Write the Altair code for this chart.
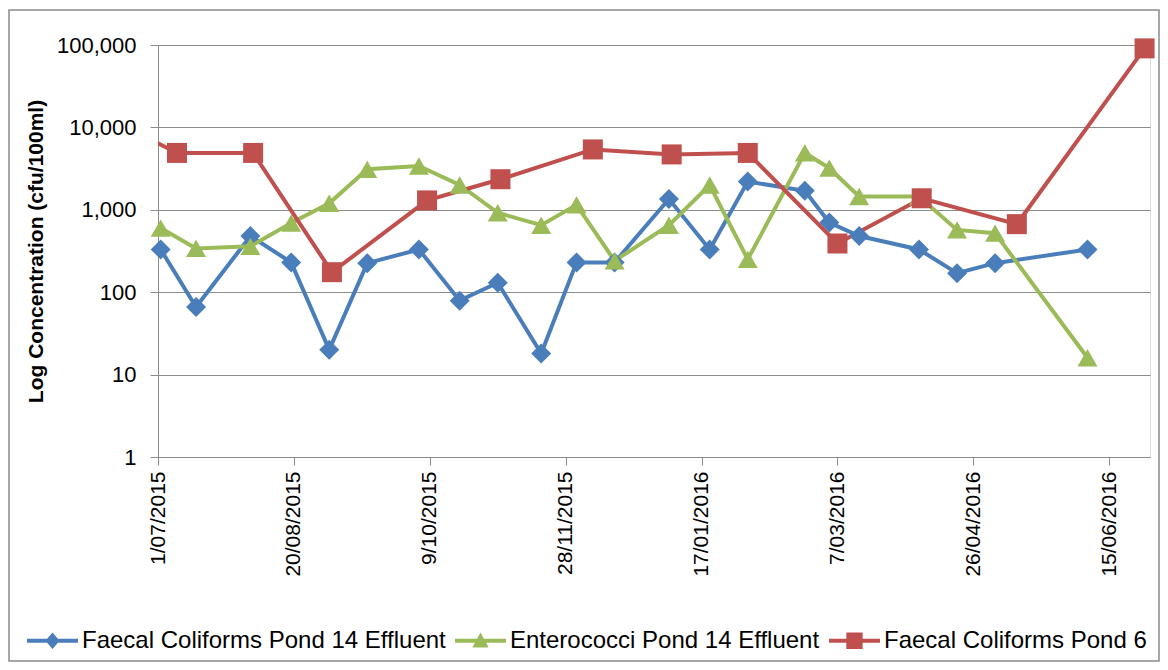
import altair as alt
import pandas as pd

series_names = [
    "Faecal Coliforms Pond 14 Effluent",
    "Enterococci Pond 14 Effluent",
    "Faecal Coliforms Pond 6",
]
series_colors = ["#4A7EBB", "#9BBB59", "#C0504D"]

pond14_dates = [
    "2015-07-02", "2015-07-15", "2015-08-04", "2015-08-19", "2015-09-02",
    "2015-09-16", "2015-10-05", "2015-10-20", "2015-11-03", "2015-11-19",
    "2015-12-02", "2015-12-16", "2016-01-05", "2016-01-20", "2016-02-03",
    "2016-02-24", "2016-03-04", "2016-03-15", "2016-04-06", "2016-04-20",
    "2016-05-04", "2016-06-07",
]
fc14_values = [330, 66, 480, 230, 20, 225, 330, 79, 130, 18, 230, 230,
               1350, 330, 2200, 1700, 700, 480, 330, 170, 225, 330]
ent14_values = [600, 340, 360, 690, 1200, 3100, 3400, 2000, 920, 650, 1150,
                240, 650, 2000, 250, 4900, 3200, 1450, 1450, 570, 520, 16]

pond6_dates = [
    "2015-06-17", "2015-07-08", "2015-08-05", "2015-09-03", "2015-10-08",
    "2015-11-04", "2015-12-08", "2016-01-06", "2016-02-03", "2016-03-07",
    "2016-04-07", "2016-05-12", "2016-06-28",
]
fc6_values = [11000, 4900, 4900, 175, 1300, 2350, 5400, 4700, 4900, 390,
              1380, 670, 91000]

tick_dates = [(2015, 7, 1), (2015, 8, 20), (2015, 10, 9), (2015, 11, 28),
              (2016, 1, 17), (2016, 3, 7), (2016, 4, 26), (2016, 6, 15)]
y_ticks = [1, 10, 100, 1000, 10000, 100000]

rows = []
for d, v in zip(pond14_dates, fc14_values):
    rows.append({"date": d + "T00:00:00", "value": v, "series": series_names[0], "inview": d >= "2015-07-01"})
for d, v in zip(pond14_dates, ent14_values):
    rows.append({"date": d + "T00:00:00", "value": v, "series": series_names[1], "inview": d >= "2015-07-01"})
for d, v in zip(pond6_dates, fc6_values):
    rows.append({"date": d + "T00:00:00", "value": v, "series": series_names[2], "inview": d >= "2015-07-01"})
df = pd.DataFrame(rows)

FONT = "Liberation Sans"
GRID = "#8c8c8c"

x_enc = alt.X(
    "date:T",
    scale=alt.Scale(domain=[alt.DateTime(year=2015, month=7, date=1),
                            alt.DateTime(year=2016, month=6, date=30)]),
    axis=alt.Axis(
        values=[alt.DateTime(year=y, month=m, date=d) for (y, m, d) in tick_dates],
        format="%-d/%m/%Y", labelAngle=270, grid=False,
        labelFont=FONT, labelFontSize=21, labelColor="#000",
        tickSize=8, tickColor=GRID, domainColor=GRID, labelPadding=6,
        title=None,
    ),
)
y_enc = alt.Y(
    "value:Q",
    scale=alt.Scale(type="log", domain=[1, 100000], nice=False),
    axis=alt.Axis(
        values=y_ticks, format=",", grid=True, gridColor=GRID,
        domainColor=GRID, tickColor=GRID, tickSize=8,
        labelFont=FONT, labelFontSize=22, labelColor="#000", labelPadding=14,
        title="Log Concentration (cfu/100ml)", titleFont=FONT,
        titleFontSize=21, titleFontWeight="bold", titleColor="#000",
        titlePadding=10,
    ),
)

color_scale = alt.Scale(domain=series_names, range=series_colors)

base = alt.Chart(df)

lines = base.mark_line(strokeWidth=4, clip=True).encode(
    x=x_enc, y=y_enc,
    color=alt.Color("series:N", scale=color_scale, legend=None),
    order=alt.Order("date:T"),
)

points = base.transform_filter("datum.inview").mark_point(
    filled=True, opacity=1, size=400, clip=False
).encode(
    x=x_enc, y=y_enc,
    color=alt.Color("series:N", scale=color_scale, legend=None),
    shape=alt.Shape("series:N",
                    scale=alt.Scale(domain=series_names,
                                    range=["diamond", "triangle-up", "square"]),
                    legend=None),
)

legend_paths = [
    "M-1,-0.08L1,-0.08L1,0.08L-1,0.08Z M-0.28,0L0,-0.32L0.28,0L0,0.32Z",
    "M-1,-0.08L1,-0.08L1,0.08L-1,0.08Z M0,-0.32L0.32,0.26L-0.32,0.26Z",
    "M-1,-0.08L1,-0.08L1,0.08L-1,0.08Z M-0.32,-0.32L0.32,-0.32L0.32,0.32L-0.32,0.32Z",
]

legend_props = dict(
    title=None, orient="none", legendX=-131, legendY=570,
    direction="horizontal", symbolSize=2600, symbolStrokeWidth=0,
    labelFont=FONT, labelFontSize=24, labelColor="#000", labelOffset=4,
    columnPadding=9, labelLimit=0, padding=0,
)

legend_layer = base.transform_filter("false").mark_point(
    filled=True, opacity=1
).encode(
    x=x_enc, y=y_enc,
    color=alt.Color("series:N", scale=color_scale, legend=alt.Legend(**legend_props)),
    shape=alt.Shape("series:N",
                    scale=alt.Scale(domain=series_names, range=legend_paths),
                    legend=alt.Legend(**legend_props)),
)

frame = alt.Chart(pd.DataFrame({"k": [0]})).mark_rect(
    fillOpacity=0, stroke="#8a8a8a", strokeWidth=1.5, clip=False
).encode(
    x=alt.value(-149), x2=alt.value(1001),
    y=alt.value(-35), y2=alt.value(616),
)

chart = alt.layer(frame, lines, points, legend_layer).resolve_scale(
    color="independent", shape="independent"
).properties(
    width=992, height=412,
    padding={"left": 150, "top": 37, "right": 10, "bottom": 205},
    autosize=alt.AutoSizeParams(type="none"),
).configure_view(stroke=None).configure(font=FONT)

chart.save("out.html", embed_options={"renderer": "svg", "actions": False})
